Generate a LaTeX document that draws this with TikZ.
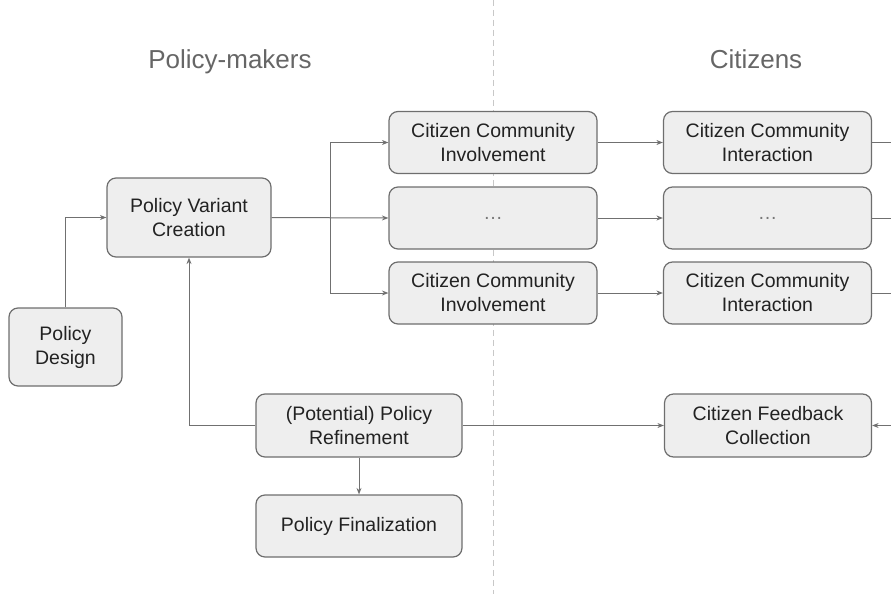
\documentclass[tikz,border=0pt]{standalone}
\usepackage{fontspec}
\setmainfont{Liberation Sans}
\usetikzlibrary{arrows.meta}
\definecolor{boxfill}{HTML}{EEEEEE}
\definecolor{boxline}{HTML}{6E6E6E}
\definecolor{wire}{HTML}{707070}
\definecolor{heading}{HTML}{666666}
\definecolor{boxtext}{HTML}{222222}
\definecolor{divider}{HTML}{C8C8C8}
\definecolor{dots}{HTML}{777777}
\begin{document}
\begin{tikzpicture}[x=1pt,y=-1pt,
  stepbox/.style={draw=boxline, line width=1.2pt, fill=boxfill, rounded corners=9pt,
    align=center, inner sep=0pt, text=boxtext,
    font=\fontsize{19.5}{24}\selectfont},
  wide/.style={minimum width=208pt, minimum height=62pt},
  heading/.style={text=heading, font=\fontsize{26}{30}\selectfont, inner sep=0pt, anchor=base},
  flow/.style={draw=wire, line width=1pt, -{Stealth[length=6.5pt,width=5pt]}},
  plain/.style={draw=wire, line width=1pt}]
\useasboundingbox (0,0) rectangle (891,594);

% lane divider
\draw[divider, line width=1pt, dash pattern=on 6pt off 4pt] (493,0) -- (493,594);

% lane headings
\node[heading] (hpm) at (230,68.5) {Policy-makers};
\node[heading] (hcz) at (756,68.5) {Citizens};

% policy-maker steps
\node[stepbox, minimum width=113pt, minimum height=78pt] (design) at (65.5,347) {Policy\\Design};
\node[stepbox, minimum width=164pt, minimum height=79pt] (variant) at (189,217.5) {Policy Variant\\Creation};
\node[stepbox, minimum width=206pt, minimum height=63pt] (refine) at (359,425.5) {(Potential) Policy\\Refinement};
\node[stepbox, minimum width=206pt, minimum height=62pt] (final) at (359,526) {Policy Finalization};

% community involvement
\node[stepbox, wide] (inv1) at (493,142.5) {Citizen Community\\Involvement};
\node[stepbox, wide] (inv2) at (493,218) {\textcolor{dots}{\ldots}};
\node[stepbox, wide] (inv3) at (493,293) {Citizen Community\\Involvement};

% community interaction
\node[stepbox, wide] (int1) at (767.5,142.5) {Citizen Community\\Interaction};
\node[stepbox, wide] (int2) at (767.5,218) {\textcolor{dots}{\ldots}};
\node[stepbox, wide] (int3) at (767.5,293) {Citizen Community\\Interaction};

\node[stepbox, minimum width=207pt, minimum height=63pt] (feedback) at (768,425.5) {Citizen Feedback\\Collection};

% connector ends and branch point
\coordinate (split) at (330,218);
\coordinate (out1) at (891,142.5);
\coordinate (out2) at (891,218);
\coordinate (out3) at (891,293);
\coordinate (back) at (891,425.5);

% connectors
\draw[flow] (design.north) |- (variant.west);
\draw[flow] (variant.east) -- (inv2.west);
\draw[flow] (split) |- (inv1.west);
\draw[flow] (split) |- (inv3.west);
\draw[flow] (inv1.east) -- (int1.west);
\draw[flow] (inv2.east) -- (int2.west);
\draw[flow] (inv3.east) -- (int3.west);
\draw[plain] (int1.east) -- (out1);
\draw[plain] (int2.east) -- (out2);
\draw[plain] (int3.east) -- (out3);
\draw[flow] (back) -- (feedback.east);
\draw[flow] (refine.east) -- (feedback.west);
\draw[flow] (refine.west) -| (variant.south);
\draw[flow] (refine.south) -- (final.north);
\end{tikzpicture}
\end{document}
